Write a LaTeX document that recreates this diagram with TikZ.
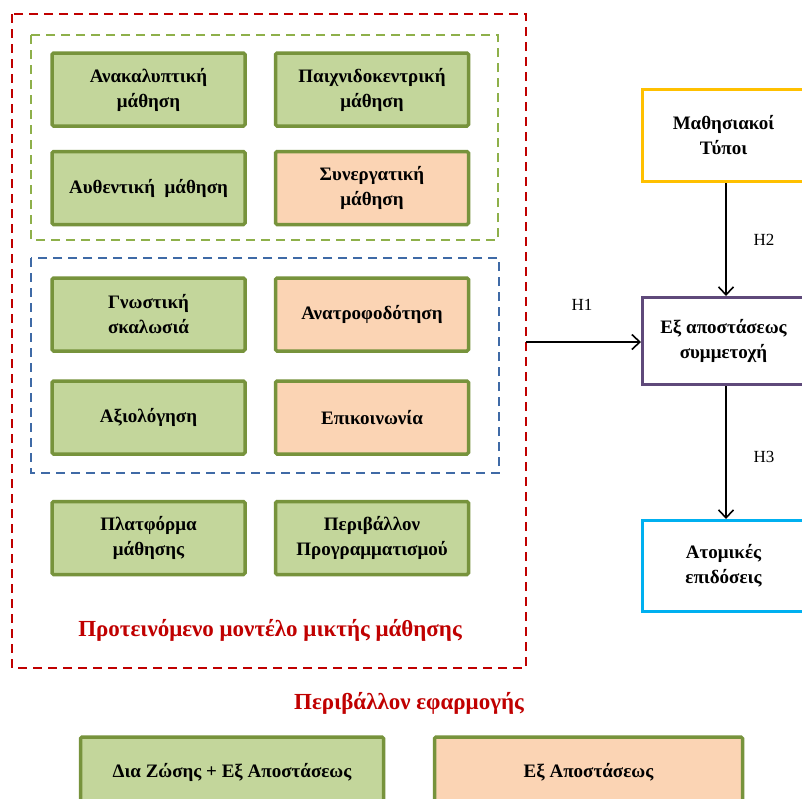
\documentclass[tikz,border=0pt]{standalone}
\usepackage{fontspec}
\setmainfont{Liberation Serif}
\usetikzlibrary{arrows.meta}
\definecolor{gfill}{HTML}{C3D69B}
\definecolor{gdraw}{HTML}{77933C}
\definecolor{ofill}{HTML}{FBD4B4}
\definecolor{rdash}{HTML}{C00000}
\definecolor{gdash}{HTML}{8EB04A}
\definecolor{bdash}{HTML}{3F6AA6}
\definecolor{ybox}{HTML}{FFC000}
\definecolor{pbox}{HTML}{5F497A}
\definecolor{cbox}{HTML}{00B0F0}
\tikzset{
  gbox/.style={draw=gdraw, fill=gfill, line width=3.5pt, rounded corners=1.5pt, minimum width=193pt, minimum height=73pt, align=center, font=\fontsize{19}{25}\selectfont\bfseries, inner sep=0pt},
  obox/.style={gbox, fill=ofill},
  rbox/.style={draw=#1, fill=white, line width=3pt, minimum width=162pt, align=center, font=\fontsize{19}{25}\selectfont\bfseries, inner sep=0pt},
  dashframe/.style={draw=#1, line width=2.2pt, dash pattern=on 9pt off 6pt},
  arr/.style={line width=1.6pt, -{Straight Barb[length=8pt,width=15pt,line width=1.6pt]}},
  lab/.style={font=\fontsize{17}{20}\selectfont, inner sep=0pt},
  ttl/.style={font=\fontsize{23}{26}\selectfont\bfseries, text=rdash, inner sep=0pt},
}
\begin{document}
\begin{tikzpicture}[x=1pt,y=-1pt]
\useasboundingbox (0,0) rectangle (802,798);
\clip (0,0) rectangle (802,798);
\fill[white] (0,0) rectangle (802,798);
% frames
\draw[dashframe=rdash] (12,14) rectangle (526,668);
\coordinate (redR) at (526,342);
\draw[dashframe=gdash] (31,35) rectangle (498,240);
\draw[dashframe=bdash] (31,258) rectangle (499,473);
% boxes
\node[gbox] (b1) at (148.5,89.5) {Ανακαλυπτική\\μάθηση};
\node[gbox] (b2) at (372,89.5) {Παιχνιδοκεντρική\\μάθηση};
\node[gbox] (b3) at (148.5,188) {Αυθεντική\ \ μάθηση};
\node[obox] (b4) at (372,188) {Συνεργατική\\μάθηση};
\node[gbox] (b5) at (148.5,314.5) {Γνωστική\\σκαλωσιά};
\node[obox] (b6) at (372,314.5) {Ανατροφοδότηση};
\node[gbox] (b7) at (148.5,417.5) {Αξιολόγηση};
\node[obox] (b8) at (372,417.5) {Επικοινωνία};
\node[gbox] (b9) at (148.5,538) {Πλατφόρμα\\μάθησης};
\node[gbox] (b10) at (372,538) {Περιβάλλον\\Προγραμματισμού};
\node[ttl] (t1) at (270,630) {Προτεινόμενο μοντέλο μικτής μάθησης};
\node[ttl] (t2) at (409,703) {Περιβάλλον εφαρμογής};
% bottom
\node[gbox, minimum width=303pt, minimum height=70pt] (e1) at (232,772) {Δια Ζώσης + Εξ Αποστάσεως};
\node[obox, minimum width=308pt, minimum height=70pt] (e2) at (588.5,772) {Εξ Αποστάσεως};
% right
\node[rbox=ybox, minimum height=92pt] (m) at (723.5,135.5) {Μαθησιακοί\\Τύποι};
\node[rbox=pbox, minimum height=87pt] (p) at (723.5,341) {Εξ αποστάσεως\\συμμετοχή};
\node[rbox=cbox, minimum height=91pt] (a) at (723.5,566) {Ατομικές\\επιδόσεις};
\draw[arr] (m.south -| 726,0) -- (p.north -| 726,0);
\draw[arr] (p.south -| 726,0) -- (a.north -| 726,0);
\draw[arr] (redR) -- (p.west |- redR);
\node[lab] (h1) at (582,305) {H1};
\node[lab] (h2) at (764,240) {H2};
\node[lab] (h3) at (764,457) {H3};
\end{tikzpicture}
\end{document}
